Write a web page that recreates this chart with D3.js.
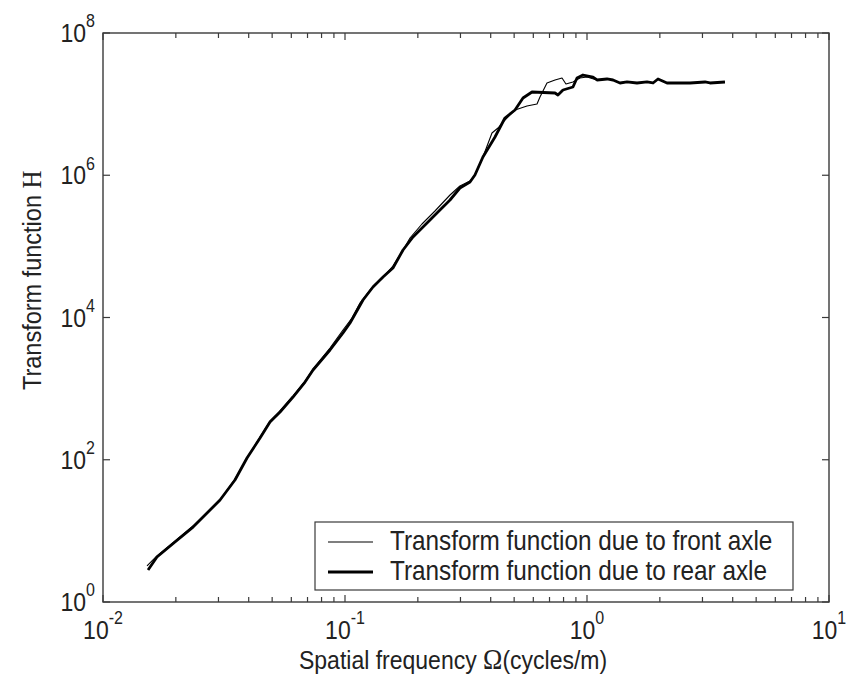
<!DOCTYPE html>
<html>
<head>
<meta charset="utf-8">
<script src="https://cdn.jsdelivr.net/npm/d3@7"></script>
<style>
  html, body { margin: 0; padding: 0; background: #fff; }
  svg { display: block; }
  text { font-family: "Liberation Sans", Arial, sans-serif; fill: #222; }
</style>
</head>
<body>
<svg id="chart" width="848" height="682"></svg>
<script>
// ---- data ----
const frontFreq = [0.0152,0.01671,0.01984,0.02355,0.03045,0.0351,0.03936,0.04455,0.04898,0.0539,0.06095,0.06836,0.07377,0.0867,0.0981,0.1069,0.1153,0.1269,0.1436,0.1578,0.1737,0.1856,0.208,0.2354,0.2716,0.2985,0.3285,0.3443,0.3715,0.4049,0.4287,0.4581,0.5041,0.5649,0.6214,0.6393,0.6833,0.7376,0.7884,0.8185,0.875,0.9354,1.0,1.0999,1.2094,1.2806,1.369,1.4636,1.609,1.77,1.874,1.965,2.141,2.665,3.074,3.222,3.716];
const frontH = [3.21,4.44,7.21,11.7,27.2,53.6,105.8,209,351,485,788,1280,1888,3725,6670,9840,16000,24370,37080,52970,88950,131200,206400,314300,527600,706300,830000,1007000,1807000,3926000,4616000,5982000,8265000,9414000,10040000,12590000,19820000,21840000,23290000,19190000,20480000,23290000,24050000,21840000,22560000,21840000,19820000,20480000,19820000,20480000,19820000,22560000,19820000,19820000,20480000,19820000,20480000];
const rearFreq = [0.01535,0.01671,0.01984,0.02355,0.03045,0.0351,0.03936,0.04455,0.04898,0.0539,0.06095,0.06836,0.07377,0.0867,0.0981,0.1049,0.1187,0.1305,0.1436,0.1578,0.1737,0.191,0.2141,0.2399,0.2716,0.2985,0.3285,0.3443,0.3715,0.4167,0.4581,0.5041,0.5439,0.5926,0.7376,0.7586,0.7958,0.875,0.9093,0.9627,1.0588,1.0999,1.2094,1.2806,1.369,1.4636,1.609,1.77,1.874,1.965,2.141,2.665,3.074,3.222,3.716];
const rearH = [2.82,4.29,6.98,11.3,27.2,51.9,105.8,202,340,469,762,1239,1828,3493,6053,8372,17620,26850,37080,49660,88950,135500,199700,294600,449000,662000,803700,1007000,1807000,3451000,6383000,8265000,12190000,14810000,14330000,13430000,15800000,17410000,23290000,25670000,24050000,21840000,22560000,21840000,19820000,20480000,19820000,20480000,19820000,22560000,19820000,19820000,20480000,19820000,20480000];

const xTickValues = [0.01, 0.1, 1, 10];
const xTickExponents = ["-2", "-1", "0", "1"];
const yTickValues = [1, 1e2, 1e4, 1e6, 1e8];
const yTickExponents = ["0", "2", "4", "6", "8"];
const seriesNames = ["Transform function due to front axle", "Transform function due to rear axle"];

// ---- layout ----
const L = 103, T = 33, R = 829, B = 602;
const axisColor = "#3a3a3a";
const SY = 1.13; // tall glyph look of the original
const svg = d3.select("#chart");

const x = d3.scaleLog().domain([0.01, 10]).range([L, R]);
const y = d3.scaleLog().domain([1, 1e8]).range([B, T]);

const minorX = [];
for (let d = 0.01; d < 10; d *= 10) {
  for (let k = 2; k <= 9; k++) minorX.push(d * k);
}

// lines
const line = d3.line().x(d => x(d[0])).y(d => y(d[1]));
const front = frontFreq.map((f, i) => [f, frontH[i]]);
const rear = rearFreq.map((f, i) => [f, rearH[i]]);

svg.append("path").datum(rear).attr("d", line)
  .attr("fill", "none").attr("stroke", "#000").attr("stroke-width", 2.8)
  .attr("stroke-linejoin", "round");
svg.append("path").datum(front).attr("d", line)
  .attr("fill", "none").attr("stroke", "#000").attr("stroke-width", 1.1)
  .attr("stroke-linejoin", "round");

// ticks (inward, all four sides)
const ticks = svg.append("g").attr("stroke", axisColor).attr("stroke-width", 1.2);
minorX.forEach(v => {
  ticks.append("line").attr("x1", x(v)).attr("x2", x(v)).attr("y1", B).attr("y2", B - 5);
  ticks.append("line").attr("x1", x(v)).attr("x2", x(v)).attr("y1", T).attr("y2", T + 5);
});
xTickValues.forEach(v => {
  ticks.append("line").attr("x1", x(v)).attr("x2", x(v)).attr("y1", B).attr("y2", B - 7);
  ticks.append("line").attr("x1", x(v)).attr("x2", x(v)).attr("y1", T).attr("y2", T + 7);
});
yTickValues.forEach(v => {
  ticks.append("line").attr("x1", L).attr("x2", L + 7).attr("y1", y(v)).attr("y2", y(v));
  ticks.append("line").attr("x1", R).attr("x2", R - 7).attr("y1", y(v)).attr("y2", y(v));
});

// box
svg.append("rect").attr("x", L).attr("y", T).attr("width", R - L).attr("height", B - T)
  .attr("fill", "none").attr("stroke", axisColor).attr("stroke-width", 1.4);

// tick labels
xTickValues.forEach((v, i) => {
  const t = svg.append("text")
    .attr("transform", `translate(${x(v)},${B + 37}) scale(1,${SY})`)
    .attr("text-anchor", "middle").style("font-size", "23px");
  t.append("tspan").text("10");
  t.append("tspan").attr("dy", -13).style("font-size", "16px").text(xTickExponents[i]);
});
yTickValues.forEach((v, i) => {
  const t = svg.append("text")
    .attr("transform", `translate(95,${y(v) + 9}) scale(1,${SY})`)
    .attr("text-anchor", "end").style("font-size", "23px");
  t.append("tspan").text("10");
  t.append("tspan").attr("dy", -13).style("font-size", "16px").text(yTickExponents[i]);
});

// axis labels
const xl = svg.append("text").attr("transform", `translate(299,669) scale(1,${SY})`).style("font-size", "23px");
xl.append("tspan").text("Spatial frequency ");
xl.append("tspan").style("font-family", "'Liberation Serif', 'Times New Roman', serif")
  .style("font-size", "26px").text("Ω");
xl.append("tspan").text("(cycles/m)");

const yl = svg.append("text").attr("transform", `translate(41,390) rotate(-90) scale(1,${SY})`).style("font-size", "23.5px");
yl.append("tspan").text("Transform function ");
yl.append("tspan").style("font-family", "'Liberation Serif', 'Times New Roman', serif")
  .style("font-size", "25px").text("H");

// legend
const lg = svg.append("g");
lg.append("rect").attr("x", 315).attr("y", 522).attr("width", 478).attr("height", 68)
  .attr("fill", "#fff").attr("stroke", axisColor).attr("stroke-width", 1.2);
const rowsY = [542, 572];
const widths = [1.1, 2.8];
seriesNames.forEach((name, i) => {
  lg.append("line").attr("x1", 328).attr("x2", 373).attr("y1", rowsY[i]).attr("y2", rowsY[i])
    .attr("stroke", "#000").attr("stroke-width", widths[i]);
  lg.append("text").attr("transform", `translate(390,${rowsY[i] + 8}) scale(1,${SY})`)
    .style("font-size", "24.3px").text(name);
});
</script>
</body>
</html>
